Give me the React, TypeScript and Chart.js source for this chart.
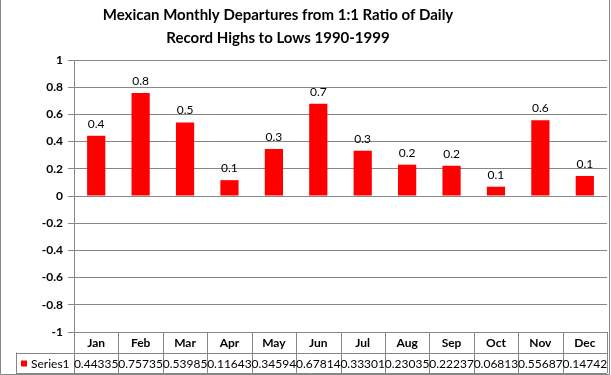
import React, { useEffect, useRef } from "react";
import { Chart, registerables } from "chart.js";

Chart.register(...registerables);

const TITLE_LINES = ["Mexican Monthly Departures from 1:1 Ratio of Daily", "Record Highs to Lows 1990-1999"];
const MONTHS = ["Jan", "Feb", "Mar", "Apr", "May", "Jun", "Jul", "Aug", "Sep", "Oct", "Nov", "Dec"];
const SERIES_NAME = "Series1";
const VALUES = [0.44335, 0.75735, 0.53985, 0.11643, 0.34594, 0.67814, 0.33301, 0.23035, 0.22237, 0.06813, 0.55687, 0.14742];
const TABLE_TEXT = ["0.44335", "0.75735", "0.53985", "0.11643", "0.34594", "0.67814", "0.33301", "0.23035", "0.22237", "0.06813", "0.55687", "0.14742"];
const Y_MIN = -1;
const Y_MAX = 1;
const Y_STEP = 0.2;

const FONT = "Lato, 'Open Sans', sans-serif";
const GRID = "#868686";
const RED = "#ff0000";

const decor = {
  id: "decor",
  afterDraw(chart: any) {
    const ctx = chart.ctx as CanvasRenderingContext2D;
    const x = chart.scales.x;
    const meta = chart.getDatasetMeta(0);
    ctx.save();
    // title
    ctx.fillStyle = "#000";
    ctx.textAlign = "center";
    ctx.textBaseline = "middle";
    ctx.font = `bold 15px ${FONT}`;
    ctx.fillText(TITLE_LINES[0], 278, 15);
    ctx.fillText(TITLE_LINES[1], 278, 38);

    // data labels
    ctx.font = `12px ${FONT}`;
    ctx.textBaseline = "bottom";
    meta.data.forEach((bar: any, i: number) => {
      ctx.fillText(VALUES[i].toFixed(1), bar.x, bar.y - 6);
    });

    // data table
    const left = chart.chartArea.left;
    const right = chart.chartArea.right;
    const top = chart.chartArea.bottom;
    const rowH = 20.5;
    const mid = top + rowH;
    const bot = top + rowH * 2;
    const legLeft = 16;
    const n = MONTHS.length;
    const cw = (right - left) / n;
    ctx.strokeStyle = GRID;
    ctx.lineWidth = 1;
    ctx.beginPath();
    for (let i = 0; i <= n; i++) {
      const xx = Math.round(left + i * cw) + 0.5;
      ctx.moveTo(xx, top);
      ctx.lineTo(xx, bot);
    }
    ctx.moveTo(legLeft + 0.5, mid);
    ctx.lineTo(legLeft + 0.5, bot);
    ctx.moveTo(legLeft, Math.round(mid) + 0.5);
    ctx.lineTo(right, Math.round(mid) + 0.5);
    ctx.moveTo(legLeft, Math.round(bot) + 0.5);
    ctx.lineTo(right, Math.round(bot) + 0.5);
    ctx.stroke();

    ctx.textBaseline = "middle";
    ctx.textAlign = "center";
    ctx.font = `bold 12px ${FONT}`;
    MONTHS.forEach((m, i) => {
      ctx.fillText(m, x.getPixelForValue(i), top + rowH / 2 + 1);
    });
    ctx.font = `12px ${FONT}`;
    TABLE_TEXT.forEach((t, i) => {
      ctx.fillText(t, x.getPixelForValue(i), mid + rowH / 2 + 1);
    });
    // legend key
    ctx.fillStyle = RED;
    ctx.fillRect(21, mid + 8, 6, 6);
    ctx.fillStyle = "#000";
    ctx.textAlign = "left";
    ctx.fillText(SERIES_NAME, 31, mid + rowH / 2 + 1);

    // outer border
    ctx.strokeStyle = GRID;
    ctx.beginPath();
    ctx.moveTo(0.5, 0);
    ctx.lineTo(0.5, 374.5);
    ctx.lineTo(609.5, 374.5);
    ctx.lineTo(609.5, 0);
    ctx.stroke();
    ctx.restore();
  },
};

export default function App() {
  const ref = useRef<HTMLCanvasElement | null>(null);
  useEffect(() => {
    document.body.style.margin = "0";
    const canvas = ref.current!;
    const chart = new Chart(canvas, {
      type: "bar",
      data: {
        labels: MONTHS,
        datasets: [
          {
            label: SERIES_NAME,
            data: VALUES,
            backgroundColor: RED,
            borderWidth: 0,
            barPercentage: 0.41,
            categoryPercentage: 1,
          },
        ],
      },
      options: {
        responsive: false,
        animation: false,
        devicePixelRatio: 1,
        layout: { padding: { left: 0, right: 4, top: 60, bottom: 43 } },
        plugins: { legend: { display: false }, title: { display: false }, tooltip: { enabled: false } },
        scales: {
          x: { display: false },
          y: {
            min: Y_MIN,
            max: Y_MAX,
            afterFit: (s: any) => {
              s.width = 74;
            },
            ticks: {
              stepSize: Y_STEP,
              color: "#000",
              padding: 5,
              font: { family: FONT, size: 12, weight: "bold" },
              callback: (v: any) => String(Number(Number(v).toFixed(1))),
            },
            grid: { color: GRID, tickLength: 6, tickColor: GRID },
            border: { color: GRID },
          },
        },
      },
      plugins: [decor],
    });
    return () => chart.destroy();
  }, []);
  return (
    <div style={{ position: "absolute", left: 0, top: 0, width: 611, height: 375 }}>
      <canvas ref={ref} width={611} height={375} style={{ display: "block", width: 611, height: 375 }} />
    </div>
  );
}
